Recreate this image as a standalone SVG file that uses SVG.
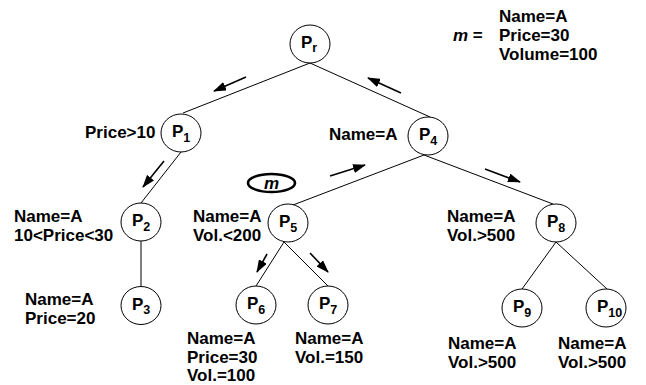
<svg xmlns="http://www.w3.org/2000/svg" width="646" height="385" viewBox="0 0 646 385">
<style>
  .n ellipse { fill: #fff; stroke: #000; stroke-width: 1; }
  .t { font-family: "Liberation Sans", Arial, sans-serif; font-weight: bold; font-size: 17px; fill: #000; }
  .p { font-family: "Liberation Sans", Arial, sans-serif; font-weight: bold; font-size: 17px; fill: #000; }
  .s { font-size: 12.5px; }
  .e { stroke: #000; stroke-width: 1; fill: none; }
  .a { stroke: #000; stroke-width: 1.6; fill: none; marker-end: url(#ah); }
</style>
<defs>
  <marker id="ah" markerUnits="userSpaceOnUse" markerWidth="13" markerHeight="9" refX="12" refY="4.5" orient="auto">
    <path d="M0,0 L13,4.5 L0,9 z" fill="#000"/>
  </marker>
</defs>
<rect width="646" height="385" fill="#fff"/>
<g id="connectors">
  <line class="e" x1="310" y1="63" x2="183" y2="113"/>
  <line class="e" x1="310" y1="63" x2="430" y2="117"/>
  <line class="e" x1="181" y1="152" x2="141" y2="203"/>
  <line class="e" x1="141" y1="241" x2="141" y2="286" stroke="#444"/>
  <line class="e" x1="424" y1="155" x2="293" y2="205"/>
  <line class="e" x1="424" y1="155" x2="553" y2="204"/>
  <line class="e" x1="284" y1="242" x2="256" y2="286"/>
  <line class="e" x1="284" y1="242" x2="328" y2="286"/>
  <line class="e" x1="556" y1="242" x2="522" y2="289"/>
  <line class="e" x1="556" y1="242" x2="607" y2="289"/>
  <line class="a" x1="246" y1="77" x2="214" y2="91"/>
  <line class="a" x1="401" y1="93" x2="368" y2="78"/>
  <line class="a" x1="164" y1="161" x2="143" y2="187"/>
  <line class="a" x1="330" y1="176" x2="365" y2="165"/>
  <line class="a" x1="485" y1="169" x2="520" y2="182"/>
  <line class="a" x1="267" y1="254" x2="257" y2="272"/>
  <line class="a" x1="310" y1="253" x2="328" y2="272"/>
</g>
<g id="Pr" class="n"><ellipse cx="310" cy="44" rx="20" ry="19"/><text class="p" x="301" y="48">P<tspan class="s" dy="4">r</tspan></text></g>
<g id="P1" class="n"><ellipse cx="181" cy="133" rx="20" ry="19"/><text class="p" x="172" y="137">P<tspan class="s" dy="4.5">1</tspan></text><text class="t" x="85" y="138">Price&gt;10</text></g>
<g id="P4" class="n"><ellipse cx="428" cy="136" rx="20" ry="19"/><text class="p" x="419" y="140">P<tspan class="s" dy="4.5">4</tspan></text><text class="t" x="329" y="140">Name=A</text></g>
<g id="P2" class="n"><ellipse cx="141" cy="222" rx="20" ry="19"/><text class="p" x="132" y="226">P<tspan class="s" dy="4.5">2</tspan></text><text class="t" x="14" y="222">Name=A</text><text class="t" x="14" y="241">10&lt;Price&lt;30</text></g>
<g id="P3" class="n"><ellipse cx="141" cy="305.5" rx="20" ry="19"/><text class="p" x="132" y="309.5">P<tspan class="s" dy="4.5">3</tspan></text><text class="t" x="25" y="305">Name=A</text><text class="t" x="25" y="324">Price=20</text></g>
<g id="P5" class="n"><ellipse cx="288" cy="223" rx="20" ry="19"/><text class="p" x="279" y="227">P<tspan class="s" dy="4.5">5</tspan></text><text class="t" x="193" y="222">Name=A</text><text class="t" x="193" y="241">Vol.&lt;200</text></g>
<g id="m"><ellipse cx="271.5" cy="183" rx="23.5" ry="9" fill="#fff" stroke="#000" stroke-width="2.6"/><text class="t" x="271.5" y="189" text-anchor="middle" font-style="italic">m</text></g>
<g id="P6" class="n"><ellipse cx="256" cy="305" rx="20" ry="19"/><text class="p" x="247" y="309">P<tspan class="s" dy="4.5">6</tspan></text><text class="t" x="187" y="344">Name=A</text><text class="t" x="187" y="362.5">Price=30</text><text class="t" x="187" y="381">Vol.=100</text></g>
<g id="P7" class="n"><ellipse cx="328" cy="305" rx="20" ry="19"/><text class="p" x="319" y="309">P<tspan class="s" dy="4.5">7</tspan></text><text class="t" x="295" y="344">Name=A</text><text class="t" x="295" y="362.5">Vol.=150</text></g>
<g id="P8" class="n"><ellipse cx="556" cy="223" rx="20" ry="19"/><text class="p" x="547" y="227">P<tspan class="s" dy="4.5">8</tspan></text><text class="t" x="447" y="222">Name=A</text><text class="t" x="447" y="241">Vol.&gt;500</text></g>
<g id="P9" class="n"><ellipse cx="522" cy="308" rx="20" ry="19"/><text class="p" x="513" y="312">P<tspan class="s" dy="4.5">9</tspan></text><text class="t" x="448" y="349">Name=A</text><text class="t" x="448" y="367.5">Vol.&gt;500</text></g>
<g id="P10" class="n"><ellipse cx="606" cy="308" rx="20" ry="19"/><text class="p" x="597" y="312">P<tspan class="s" dy="4.5">10</tspan></text><text class="t" x="558" y="349">Name=A</text><text class="t" x="558" y="367.5">Vol.&gt;500</text></g>
<g id="legend">
  <text class="t" x="453" y="41"><tspan font-style="italic">m</tspan> =</text>
  <text class="t" x="499" y="21.5">Name=A</text>
  <text class="t" x="499" y="40.5">Price=30</text>
  <text class="t" x="499" y="59.5">Volume=100</text>
</g>
</svg>
